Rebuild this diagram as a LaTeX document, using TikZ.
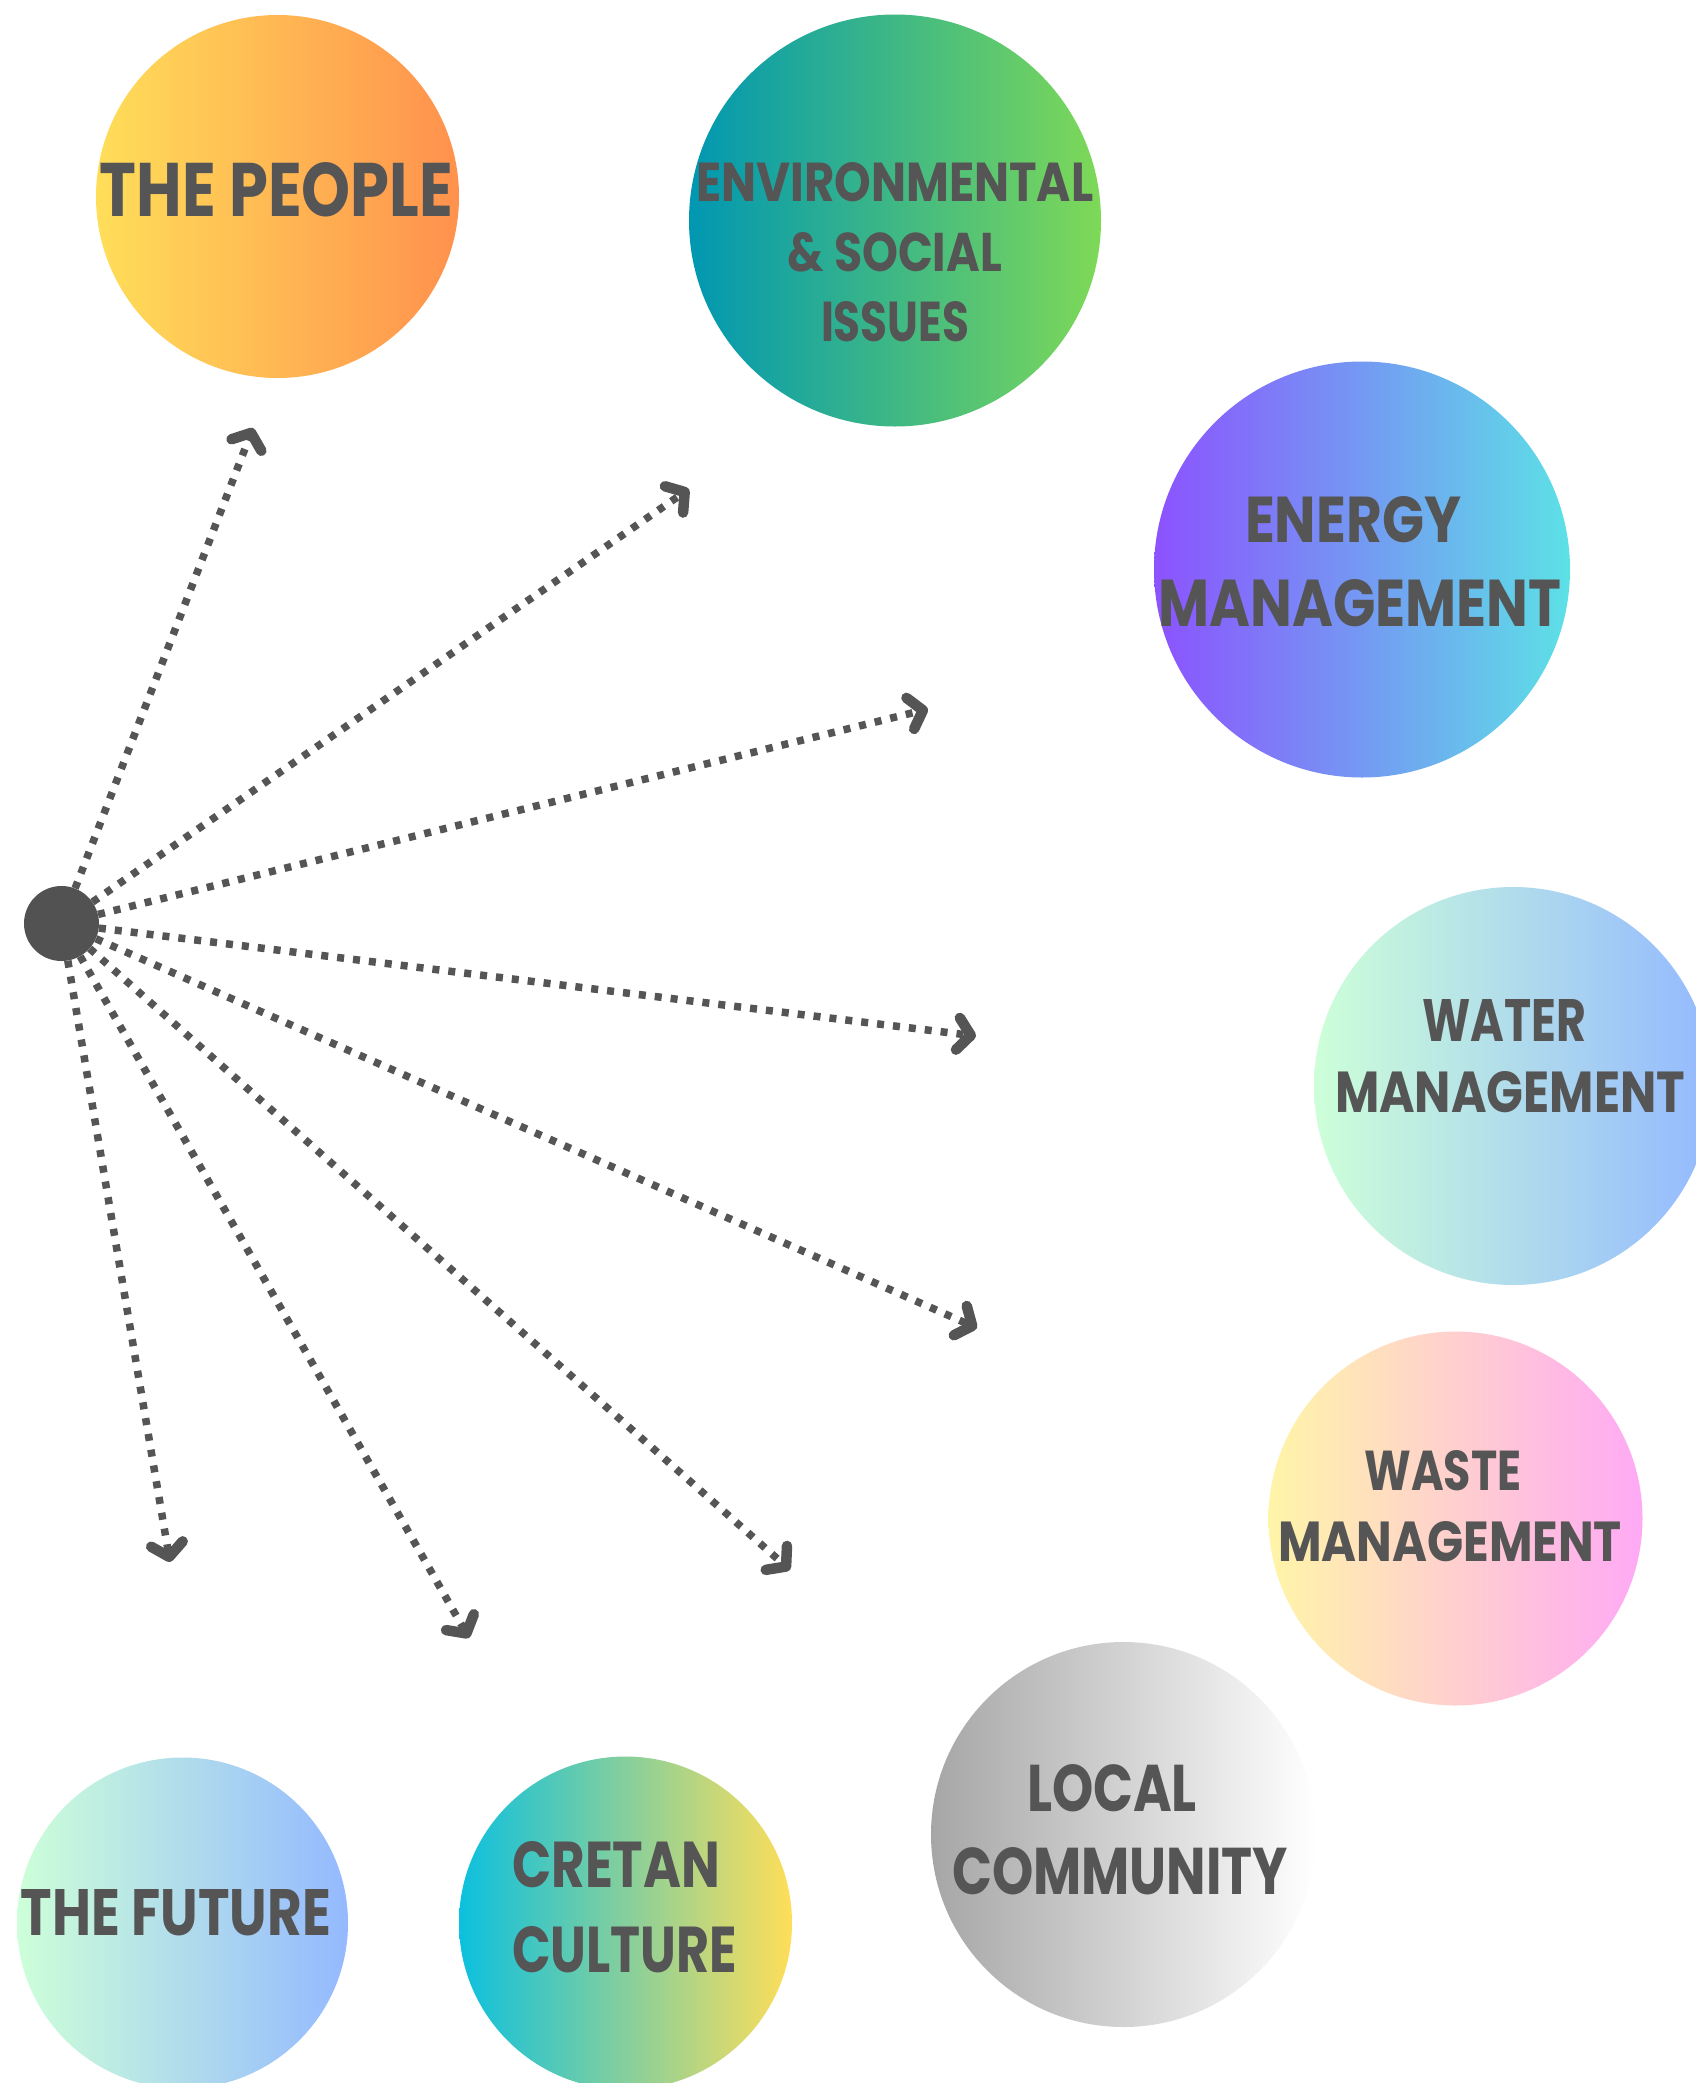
\documentclass[tikz,border=0pt]{standalone}
\usepackage{fontspec}
\setmainfont{Poppins}
\usetikzlibrary{arrows.meta}
\definecolor{ink}{HTML}{555555}
\definecolor{hubgray}{HTML}{525252}
\definecolor{peopleA}{HTML}{FFDE59}
\definecolor{peopleB}{HTML}{FF914D}
\definecolor{envA}{HTML}{0097B2}
\definecolor{envB}{HTML}{7ED957}
\definecolor{energyA}{HTML}{8C52FF}
\definecolor{energyB}{HTML}{5CE1E6}
\definecolor{waterA}{HTML}{CDFFD8}
\definecolor{waterB}{HTML}{94B9FF}
\definecolor{wasteA}{HTML}{FFF5A8}
\definecolor{wasteB}{HTML}{FFA9F5}
\definecolor{localA}{HTML}{A6A6A6}
\definecolor{localB}{HTML}{FFFFFF}
\definecolor{cretanA}{HTML}{0CC0DF}
\definecolor{cretanB}{HTML}{FFDE59}
\newcommand{\fitline}[3]{\resizebox{#1pt}{#2pt}{#3}}
\tikzset{
  bubble/.style={circle, inner sep=0pt, draw=none},
  lbl/.style={inner sep=0pt, text=ink},
  conn/.style={draw=ink, line width=7.5pt, dash pattern=on 7pt off 9pt,
    -{Straight Barb[length=13pt,width=32pt,line width=10.5pt,round]}},
}
\begin{document}
\begin{tikzpicture}[x=1pt,y=-1pt]
\useasboundingbox (0,0) rectangle (1695,2083);
% bubbles
\node[bubble, minimum size=363pt, left color=peopleA, right color=peopleB] (people) at (277.5,196.5) {};
\node[bubble, minimum size=412pt, left color=envA, right color=envB] (env) at (895,220.5) {};
\node[bubble, minimum size=416pt, left color=energyA, right color=energyB] (energy) at (1362,569.5) {};
\node[bubble, minimum size=398pt, left color=waterA, right color=waterB] (water) at (1513,1086) {};
\node[bubble, minimum size=374pt, left color=wasteA, right color=wasteB] (waste) at (1455.5,1518.5) {};
\node[bubble, minimum size=385pt, left color=localA, right color=localB] (local) at (1123.5,1834.5) {};
\node[bubble, minimum size=333pt, left color=cretanA, right color=cretanB] (cretan) at (625.5,1923) {};
\node[bubble, minimum size=331pt, left color=waterA, right color=waterB] (future) at (182.5,1923) {};
% labels
\node[lbl, font=\bfseries] (peopleT) at (276.5,190) {\fitline{353}{54}{THE PEOPLE}};
\node[lbl, align=center, font=\bfseries\fontsize{40}{70}\selectfont] (envT) at (895,252.5)
  {\fitline{397}{39}{ENVIRONMENTAL}\\\fitline{214}{39}{\&~SOCIAL}\\\fitline{148}{40}{ISSUES}};
\node[lbl, align=center, font=\bfseries\fontsize{40}{84}\selectfont] (energyT) at (1360,562)
  {\fitline{216}{46}{ENERGY}\hspace*{14pt}\\\fitline{403}{47}{MANAGEMENT}};
\node[lbl, align=center, font=\bfseries\fontsize{40}{71}\selectfont] (waterT) at (1510,1056.5)
  {\fitline{164}{42}{WATER}\hspace*{12pt}\\\fitline{350}{41}{MANAGEMENT}};
\node[lbl, align=center, font=\bfseries\fontsize{40}{71}\selectfont] (wasteT) at (1450,1506.5)
  {\fitline{157}{40}{WASTE}\hspace*{14pt}\\\fitline{344}{40}{MANAGEMENT}};
\node[lbl, align=center, font=\bfseries\fontsize{40}{83}\selectfont] (localT) at (1120,1830)
  {\fitline{170}{47}{LOCAL}\hspace*{16pt}\\\fitline{336}{47}{COMMUNITY}};
\node[lbl, align=left, anchor=west, font=\bfseries\fontsize{40}{85}\selectfont] (cretanT) at (512,1907.5)
  {\fitline{208}{46}{CRETAN}\\\fitline{225}{46}{CULTURE}};
\node[lbl, font=\bfseries] (futureT) at (176,1913) {\fitline{310}{46}{THE FUTURE}};
% hub
\node[circle, inner sep=0pt, fill=hubgray, minimum size=75pt] (hub) at (61.5,923.5) {};
% arrow tips
\coordinate (t1) at (253,428);
\coordinate (t2) at (689,489);
\coordinate (t3) at (928,709);
\coordinate (t4) at (976,1036);
\coordinate (t5) at (977,1328);
\coordinate (t6) at (790,1570);
\coordinate (t7) at (469,1638);
\coordinate (t8) at (170,1562);
\foreach \t in {t1,t2,t3,t4,t5,t6,t7,t8}
  \draw[conn] (hub) -- (\t);
\end{tikzpicture}
\end{document}
